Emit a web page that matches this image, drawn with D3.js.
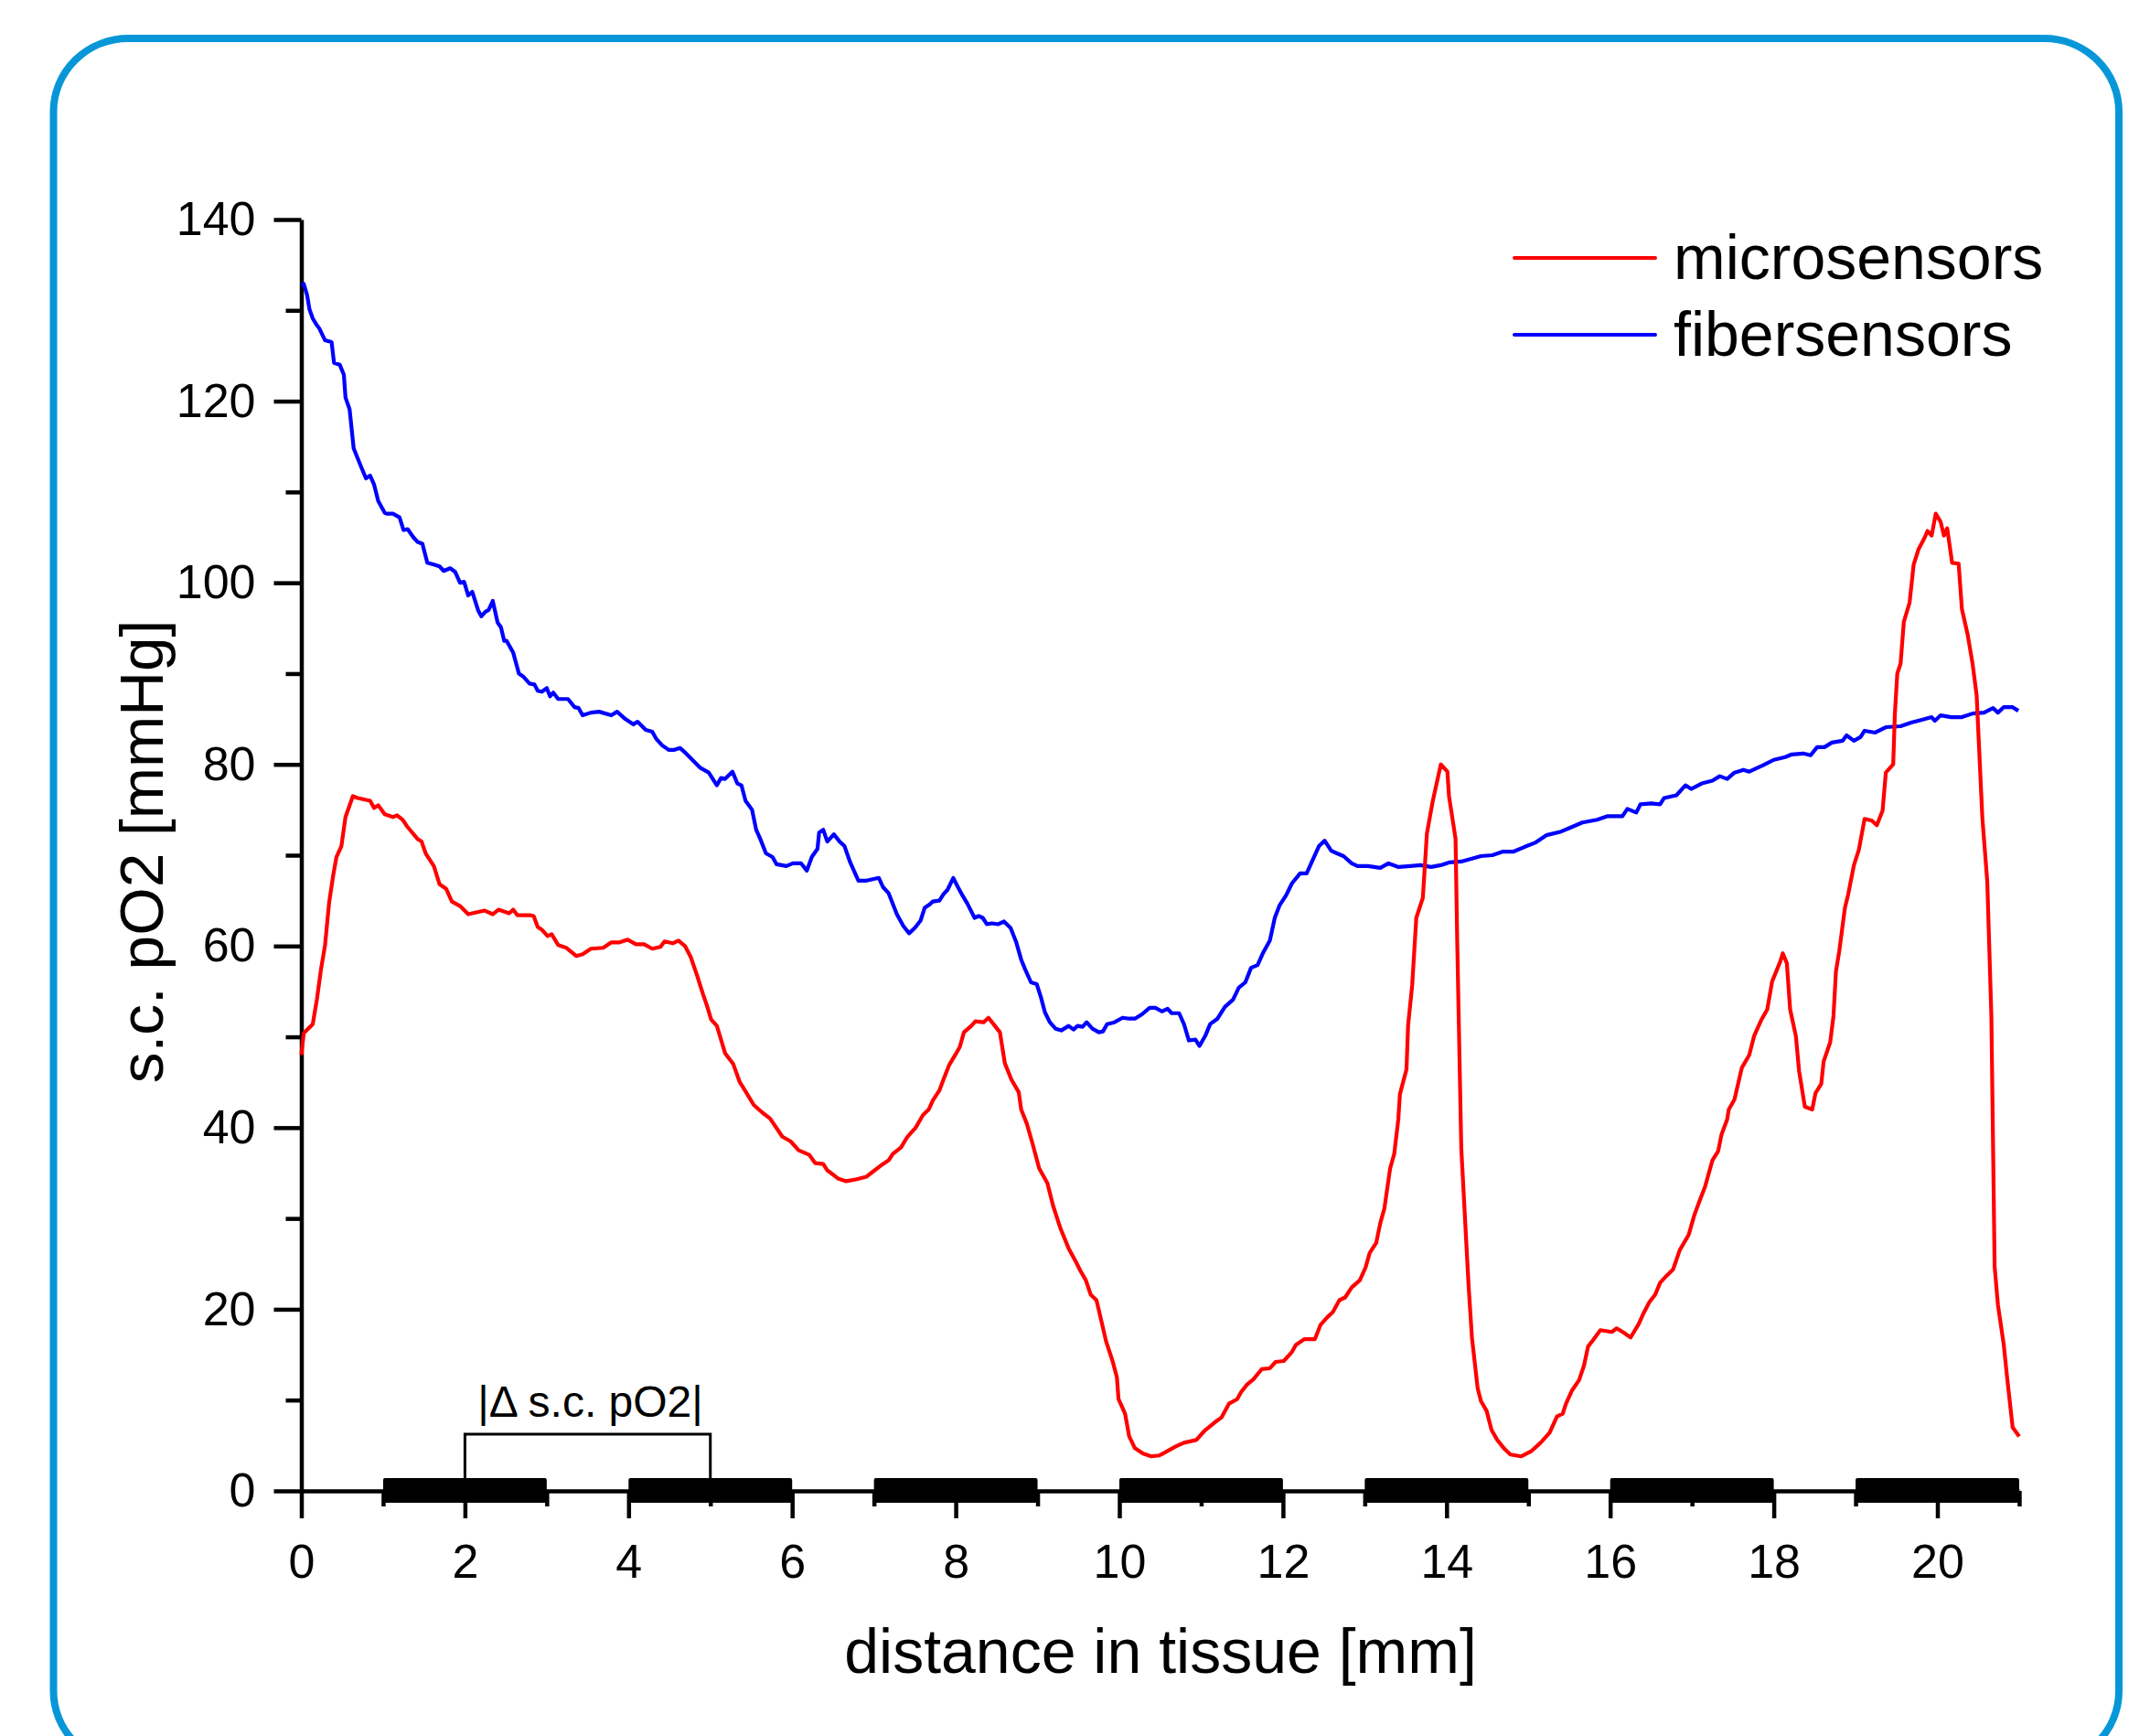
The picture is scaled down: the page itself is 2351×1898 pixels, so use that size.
<!DOCTYPE html>
<html>
<head>
<meta charset="utf-8">
<script src="https://cdn.jsdelivr.net/npm/d3@7"></script>
<style>
  html, body { margin: 0; padding: 0; background: #ffffff; }
  svg { display: block; }
  text { font-family: "Liberation Sans", Arial, Helvetica, sans-serif; fill: #000; }
</style>
</head>
<body>
<script>
// ---------------- data ----------------
const xTickLabels = [0, 2, 4, 6, 8, 10, 12, 14, 16, 18, 20];
const xMinorTicks = [1, 3, 5, 7, 9, 11, 13, 15, 17, 19, 21];
const yTickLabels = [0, 20, 40, 60, 80, 100, 120, 140];
const yMinorTicks = [10, 30, 50, 70, 90, 110, 130];
const seriesNames = ["microsensors", "fibersensors"];
const electrodeBars = [[1, 3], [4, 6], [7, 9], [10, 12], [13, 15], [16, 18], [19, 21]];
const bracketRange = [2, 5];
const bracketLabel = "|\u0394 s.c. pO2|";

const microDist = [0.00,0.03,0.14,0.19,0.24,0.29,0.34,0.39,0.43,0.49,0.54,0.63,0.69,0.84,0.89,0.94,1.02,1.12,1.17,1.24,1.29,1.42,1.47,1.52,1.62,1.69,1.77,1.84,1.94,2.04,2.24,2.34,2.41,2.54,2.59,2.64,2.79,2.84,2.89,2.94,3.01,3.06,3.14,3.24,3.36,3.44,3.54,3.69,3.79,3.89,3.99,4.09,4.19,4.29,4.39,4.44,4.54,4.61,4.69,4.76,4.84,4.91,4.96,5.01,5.08,5.18,5.28,5.36,5.43,5.53,5.63,5.73,5.88,5.98,6.08,6.21,6.28,6.38,6.43,6.56,6.66,6.78,6.91,6.98,7.08,7.18,7.23,7.33,7.41,7.51,7.60,7.67,7.72,7.80,7.85,7.92,8.00,8.05,8.10,8.19,8.24,8.34,8.40,8.47,8.54,8.60,8.68,8.77,8.80,8.87,8.94,9.02,9.12,9.19,9.28,9.38,9.47,9.52,9.59,9.65,9.72,9.77,9.84,9.92,9.97,9.99,10.07,10.12,10.19,10.29,10.39,10.49,10.59,10.69,10.79,10.94,11.04,11.16,11.25,11.34,11.44,11.49,11.56,11.64,11.74,11.84,11.91,12.01,12.11,12.16,12.26,12.39,12.46,12.54,12.61,12.69,12.76,12.84,12.94,13.01,13.06,13.14,13.19,13.24,13.31,13.36,13.41,13.43,13.51,13.53,13.58,13.63,13.71,13.76,13.83,13.93,14.01,14.03,14.11,14.13,14.18,14.27,14.31,14.38,14.42,14.49,14.55,14.62,14.71,14.78,14.91,15.04,15.15,15.26,15.35,15.42,15.46,15.53,15.62,15.68,15.73,15.79,15.88,16.02,16.08,16.17,16.25,16.35,16.41,16.48,16.55,16.61,16.68,16.77,16.85,16.96,17.03,17.10,17.16,17.25,17.32,17.36,17.43,17.45,17.52,17.61,17.70,17.76,17.85,17.92,17.98,18.03,18.08,18.11,18.16,18.20,18.27,18.31,18.38,18.47,18.51,18.58,18.61,18.69,18.73,18.76,18.80,18.87,18.91,18.98,19.04,19.11,19.20,19.26,19.33,19.37,19.46,19.48,19.51,19.55,19.59,19.66,19.71,19.77,19.84,19.88,19.93,19.98,20.04,20.08,20.12,20.18,20.26,20.30,20.37,20.43,20.48,20.55,20.61,20.66,20.70,20.74,20.81,20.85,20.92,21.00];
const microPO2 = [48.0,50.4,51.4,54.1,57.4,60.1,64.8,67.8,69.8,71.0,74.2,76.5,76.3,76.0,75.2,75.5,74.5,74.2,74.4,73.9,73.2,71.8,71.5,70.2,68.8,66.8,66.3,64.9,64.4,63.5,63.9,63.5,64.0,63.6,64.0,63.4,63.4,63.3,62.1,61.8,61.1,61.3,60.1,59.8,58.9,59.1,59.7,59.8,60.4,60.4,60.7,60.2,60.2,59.7,59.9,60.5,60.3,60.6,60.0,58.8,56.7,54.7,53.4,51.9,51.2,48.2,47.0,45.0,44.0,42.5,41.7,41.0,39.0,38.5,37.5,37.0,36.1,36.0,35.3,34.4,34.1,34.3,34.6,35.1,35.8,36.4,37.1,37.8,39.0,40.0,41.4,42.0,43.0,44.1,45.3,46.9,48.1,48.9,50.5,51.2,51.7,51.6,52.1,51.3,50.5,47.1,45.3,43.9,42.0,40.4,38.2,35.5,33.9,31.4,28.9,26.7,25.2,24.3,23.2,21.6,21.0,19.1,16.4,14.2,12.5,10.1,8.5,6.0,4.7,4.1,3.8,3.9,4.4,4.9,5.3,5.6,6.6,7.5,8.1,9.6,10.1,10.9,11.7,12.3,13.4,13.5,14.2,14.3,15.3,16.1,16.7,16.7,18.3,19.1,19.7,21.0,21.3,22.4,23.2,24.6,26.2,27.3,29.5,31.1,35.5,37.1,40.9,43.7,46.4,51.3,55.7,63.1,65.3,72.4,75.9,80.0,79.2,76.5,71.8,60.6,37.7,22.5,16.9,11.3,9.9,8.8,6.7,5.6,4.6,4.0,3.8,4.4,5.3,6.4,8.2,8.5,9.6,11.0,12.2,13.8,15.9,16.6,17.7,17.5,17.9,17.4,16.9,18.4,19.6,20.8,21.6,22.9,23.6,24.4,26.5,28.2,30.4,32.1,33.5,36.4,37.4,39.2,40.9,42.0,43.1,46.6,48.0,50.1,51.9,53.0,56.1,57.2,58.3,59.2,58.1,53.0,50.1,46.2,42.3,42.0,43.8,44.8,47.3,49.4,52.3,57.2,59.4,64.2,65.7,68.9,70.6,74.0,73.8,73.3,74.9,79.1,80.0,85.5,90.0,91.1,95.7,97.8,102.0,103.7,104.9,105.7,105.2,107.6,106.7,105.2,106.0,102.2,102.1,97.1,94.3,91.1,87.6,74.1,67.1,52.3,24.7,20.5,16.2,12.7,7.0,6.0];

const fiberDist = [0.00,0.03,0.07,0.10,0.14,0.18,0.22,0.29,0.37,0.40,0.47,0.52,0.54,0.59,0.64,0.72,0.79,0.84,0.89,0.94,1.02,1.05,1.12,1.20,1.25,1.30,1.37,1.42,1.48,1.54,1.62,1.69,1.74,1.82,1.88,1.94,1.99,2.04,2.09,2.16,2.20,2.25,2.29,2.34,2.40,2.44,2.48,2.51,2.59,2.66,2.71,2.79,2.85,2.89,2.94,3.00,3.04,3.08,3.14,3.26,3.34,3.39,3.44,3.54,3.64,3.79,3.86,3.96,4.06,4.11,4.21,4.29,4.34,4.41,4.49,4.56,4.63,4.68,4.78,4.88,4.98,5.08,5.13,5.18,5.27,5.33,5.38,5.43,5.51,5.56,5.61,5.68,5.76,5.81,5.93,6.01,6.11,6.18,6.24,6.31,6.33,6.38,6.43,6.51,6.58,6.64,6.71,6.81,6.91,7.06,7.11,7.18,7.28,7.36,7.43,7.50,7.57,7.62,7.67,7.72,7.80,7.85,7.90,7.97,8.02,8.08,8.14,8.23,8.28,8.33,8.38,8.44,8.52,8.59,8.67,8.74,8.80,8.85,8.92,8.99,9.04,9.09,9.15,9.22,9.29,9.38,9.44,9.49,9.55,9.60,9.67,9.75,9.80,9.85,9.94,10.04,10.12,10.19,10.28,10.37,10.44,10.52,10.59,10.64,10.73,10.79,10.85,10.93,10.98,11.05,11.11,11.20,11.29,11.39,11.46,11.54,11.61,11.69,11.76,11.84,11.90,11.96,12.04,12.11,12.21,12.29,12.36,12.44,12.51,12.59,12.66,12.74,12.84,12.91,13.04,13.19,13.29,13.41,13.56,13.68,13.81,13.93,14.03,14.18,14.34,14.42,14.56,14.69,14.82,14.95,15.09,15.22,15.40,15.53,15.66,15.84,15.97,16.15,16.21,16.32,16.37,16.50,16.61,16.66,16.81,16.92,16.99,17.12,17.25,17.34,17.43,17.52,17.63,17.70,17.87,18.00,18.14,18.22,18.36,18.45,18.53,18.62,18.71,18.84,18.89,18.98,19.06,19.11,19.24,19.37,19.55,19.68,19.81,19.93,19.97,20.04,20.17,20.30,20.43,20.57,20.68,20.74,20.81,20.92,20.99];
const fiberPO2 = [132.8,132.9,131.7,130.1,129.1,128.5,128.0,126.7,126.5,124.2,124.0,122.9,120.4,119.1,114.8,113.0,111.5,111.8,110.8,109.0,107.7,107.6,107.6,107.2,105.8,105.9,105.0,104.5,104.3,102.2,102.0,101.8,101.3,101.6,101.2,100.0,100.1,98.6,99.0,97.0,96.3,96.8,97.0,98.0,95.6,95.1,93.6,93.6,92.3,90.0,89.7,88.9,88.8,88.1,88.0,88.4,87.5,87.9,87.2,87.2,86.3,86.2,85.4,85.7,85.8,85.4,85.8,85.0,84.4,84.7,83.8,83.6,82.8,82.1,81.6,81.6,81.8,81.4,80.5,79.6,79.1,77.7,78.5,78.4,79.2,77.9,77.7,76.0,75.0,72.8,71.8,70.2,69.8,69.0,68.8,69.1,69.1,68.3,69.8,70.7,72.5,72.8,71.5,72.3,71.5,71.0,69.2,67.2,67.2,67.5,66.5,65.8,63.5,62.2,61.4,62.0,62.8,64.2,64.5,64.9,65.0,65.7,66.2,67.5,66.6,65.6,64.7,63.1,63.3,63.1,62.4,62.5,62.4,62.7,62.0,60.4,58.5,57.4,56.0,55.8,54.4,52.7,51.6,50.9,50.7,51.2,50.8,51.2,51.1,51.6,50.9,50.5,50.6,51.4,51.6,52.1,52.0,52.0,52.5,53.2,53.2,52.8,53.1,52.6,52.6,51.4,49.6,49.7,49.0,50.1,51.4,52.0,53.3,54.1,55.4,56.0,57.6,57.9,59.3,60.6,63.1,64.5,65.6,66.9,68.0,68.0,69.4,71.0,71.6,70.5,70.2,69.9,69.1,68.8,68.8,68.6,69.1,68.7,68.8,68.9,68.7,68.9,69.2,69.3,69.7,69.9,70.0,70.4,70.4,70.9,71.4,72.2,72.6,73.1,73.6,73.9,74.3,74.3,75.1,74.7,75.6,75.7,75.6,76.3,76.6,77.7,77.3,77.9,78.2,78.7,78.4,79.1,79.4,79.2,79.9,80.5,80.8,81.1,81.2,81.0,81.9,81.9,82.4,82.6,83.2,82.6,83.0,83.7,83.5,84.1,84.2,84.6,84.9,85.2,84.8,85.4,85.2,85.2,85.6,85.7,86.2,85.7,86.3,86.3,85.9];

// ---------------- drawing ----------------
const W = 2351, H = 1898;
const svg = d3.select("body").append("svg").attr("width", W).attr("height", H);

svg.append("rect").attr("width", W).attr("height", H).attr("fill", "#fff");

// rounded blue frame
svg.append("rect")
  .attr("x", 58.5).attr("y", 42)
  .attr("width", 2258.5).attr("height", 1887)
  .attr("rx", 82).attr("ry", 80)
  .attr("fill", "none").attr("stroke", "#0797d8").attr("stroke-width", 8);

const x = d3.scaleLinear().domain([0, 21]).range([329.5, 329.5 + 21 * 89.45]);
const y = d3.scaleLinear().domain([0, 140]).range([1630, 240]);

const fontTick = 52;

// electrode bars
svg.append("g").selectAll("rect").data(electrodeBars).join("rect")
  .attr("x", d => x(d[0]))
  .attr("width", d => x(d[1]) - x(d[0]))
  .attr("y", y(0) - 14)
  .attr("height", 27)
  .attr("rx", 2)
  .attr("fill", "#000");

// bracket
svg.append("path")
  .attr("d", `M${x(bracketRange[0])},${y(0)} V1568 H${x(bracketRange[1])} V${y(0)}`)
  .attr("fill", "none").attr("stroke", "#000").attr("stroke-width", 3);
svg.append("text")
  .attr("x", x((bracketRange[0] + bracketRange[1]) / 2) + 3)
  .attr("y", 1549)
  .attr("text-anchor", "middle")
  .attr("font-size", 48)
  .text(bracketLabel);

// X axis major
const gx = svg.append("g").attr("transform", `translate(0,${y(0)})`)
  .call(d3.axisBottom(x).tickValues(xTickLabels).tickFormat(d3.format("d"))
    .tickSizeInner(30).tickSizeOuter(0).tickPadding(28));
gx.select(".domain").attr("stroke-width", 4.5).attr("stroke", "#000");
gx.selectAll(".tick line").attr("stroke-width", 4.5).attr("stroke", "#000");
gx.selectAll(".tick text").attr("font-size", fontTick).attr("font-family", "Liberation Sans, Arial, sans-serif").attr("fill", "#000");

// X axis minor
const gxm = svg.append("g").attr("transform", `translate(0,${y(0)})`)
  .call(d3.axisBottom(x).tickValues(xMinorTicks).tickFormat("").tickSizeInner(17).tickSizeOuter(0));
gxm.select(".domain").remove();
gxm.selectAll(".tick line").attr("stroke-width", 4.5).attr("stroke", "#000");

// Y axis major
const gy = svg.append("g").attr("transform", `translate(${x(0)},0)`)
  .call(d3.axisLeft(y).tickValues(yTickLabels).tickFormat(d3.format("d"))
    .tickSizeInner(30).tickSizeOuter(0).tickPadding(20));
gy.select(".domain").attr("stroke-width", 4.5).attr("stroke", "#000");
gy.selectAll(".tick line").attr("stroke-width", 4.5).attr("stroke", "#000");
gy.selectAll(".tick text").attr("font-size", fontTick).attr("font-family", "Liberation Sans, Arial, sans-serif").attr("fill", "#000");

// Y axis minor
const gym = svg.append("g").attr("transform", `translate(${x(0)},0)`)
  .call(d3.axisLeft(y).tickValues(yMinorTicks).tickFormat("").tickSizeInner(17).tickSizeOuter(0));
gym.select(".domain").remove();
gym.selectAll(".tick line").attr("stroke-width", 4.5).attr("stroke", "#000");

// data lines
const micro = microDist.map((d, i) => [d, microPO2[i]]);
const fiber = fiberDist.map((d, i) => [d, fiberPO2[i]]);
const line = d3.line().x(d => x(d[0])).y(d => y(d[1]));

svg.append("path").datum(fiber)
  .attr("d", line).attr("fill", "none").attr("stroke", "#0000ff")
  .attr("stroke-width", 4.2).attr("stroke-linejoin", "round");
svg.append("path").datum(micro)
  .attr("d", line).attr("fill", "none").attr("stroke", "#ff0000")
  .attr("stroke-width", 4.2).attr("stroke-linejoin", "round");

// axis titles
svg.append("text")
  .attr("x", 1269).attr("y", 1829)
  .attr("text-anchor", "middle").attr("font-size", 68)
  .text("distance in tissue [mm]");
svg.append("text")
  .attr("transform", "translate(178,931) rotate(-90)")
  .attr("text-anchor", "middle").attr("font-size", 67.5)
  .text("s.c. pO2 [mmHg]");

// legend
const legColors = ["#ff0000", "#0000ff"];
const leg = svg.append("g");
seriesNames.forEach((name, i) => {
  const ly = 282 + i * 84;
  leg.append("line").attr("x1", 1656).attr("x2", 1810).attr("y1", ly).attr("y2", ly)
    .attr("stroke", legColors[i]).attr("stroke-width", 4).attr("stroke-linecap", "round");
  leg.append("text").attr("x", 1830).attr("y", ly + 23).attr("font-size", 68).text(name);
});
</script>
</body>
</html>
